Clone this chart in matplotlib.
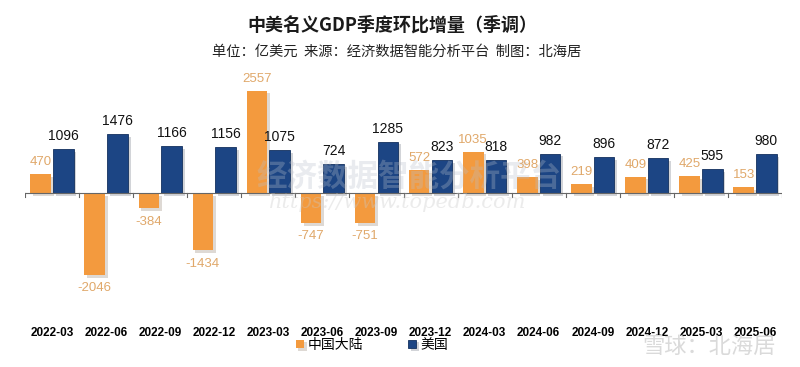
import numpy as np
import matplotlib.pyplot as plt
import matplotlib.patheffects as pe

# ─── DATA ────────────────────────────────────────────────────────────────
quarters = ["2022-03", "2022-06", "2022-09", "2022-12", "2023-03", "2023-06",
            "2023-09", "2023-12", "2024-03", "2024-06", "2024-09", "2024-12",
            "2025-03", "2025-06"]
china = [470, -2046, -384, -1434, 2557, -747, -751, 572, 1035, 398, 219, 409,
         425, 153]
usa = [1096, 1476, 1166, 1156, 1075, 724, 1285, 823, 818, 982, 896, 872,
       595, 980]

C_CN = "#F39A3E"
C_US = "#1C4584"
C_CN_TXT = "#E0A86A"
CJK = ["Noto Sans CJK SC", "DejaVu Sans"]
NUM = ["Liberation Sans", "DejaVu Sans"]

plt.rcParams["font.family"] = CJK

fig = plt.figure(figsize=(8, 3.67), dpi=100)
ax = fig.add_axes([25 / 800, 54 / 367, 757 / 800, 240 / 367])

x = np.arange(len(quarters))
w = 0.38
shadow = [pe.SimplePatchShadow(offset=(2, -2), alpha=0.18), pe.Normal()]

b1 = ax.bar(x - 0.21, china, w, color=C_CN, label="中国大陆", zorder=3)
b2 = ax.bar(x + 0.21, usa, w, color=C_US, edgecolor="#13305e",
            linewidth=0.6, label="美国", zorder=3)
for b in list(b1) + list(b2):
    b.set_path_effects(shadow)

for xi, v in zip(x, china):
    off = 150 if v >= 0 else -180
    ax.text(xi - 0.21, v + off, str(v), ha="center",
            va="bottom" if v >= 0 else "top", fontsize=9.5,
            color=C_CN_TXT, family=NUM, zorder=5)
for xi, v in zip(x, usa):
    ax.text(xi + 0.21, v + 150, str(v), ha="center", va="bottom",
            fontsize=10, color="#111111", family=NUM, zorder=5)

# baseline with category ticks
ax.axhline(0, color="#666666", linewidth=0.8, zorder=4)
for xb in np.arange(-0.5, len(quarters), 1.0):
    ax.plot([xb, xb], [0, -100], color="#666666", linewidth=0.8, zorder=4)

ax.set_xlim(-0.5, len(quarters) - 0.5)
ax.set_ylim(-3000, 3000)
ax.set_yticks([])
ax.set_xticks(x)
ax.set_xticklabels(quarters, fontsize=8.5, fontweight="bold", family=NUM)
ax.tick_params(axis="x", length=0, pad=10)
for s in ax.spines.values():
    s.set_visible(False)

# watermarks
ax.text(6.6, 420, "经济数据智能分析平台", ha="center", va="center",
        fontsize=22, color="#b8c0cc", alpha=0.3, fontweight="bold",
        zorder=4)
ax.text(6.4, -250, "https://www.topedb.com", ha="center", va="center",
        fontsize=15, color="#c8c8c8", alpha=0.35, style="italic",
        family=["DejaVu Serif"], zorder=4)
fig.text(0.97, 0.055, "雪球：北海居", ha="right", va="center",
         fontsize=16, color="#dadada")

fig.text(0.49, 0.932, "中美名义GDP季度环比增量（季调）", ha="center",
         va="center", fontsize=13, fontweight="bold", color="#1a1a1a")
fig.text(0.496, 0.858, "单位：亿美元  来源：经济数据智能分析平台  制图：北海居",
         ha="center", va="center", fontsize=10.3, color="#222222")

fig.legend(handles=[b1, b2], labels=["中国大陆", "美国"], loc="center",
           bbox_to_anchor=(0.465, 0.06), ncol=2, frameon=False, fontsize=10,
           handlelength=0.6, handleheight=0.6, handletextpad=0.3,
           columnspacing=3.2)

fig.savefig("out.png", dpi=100)
